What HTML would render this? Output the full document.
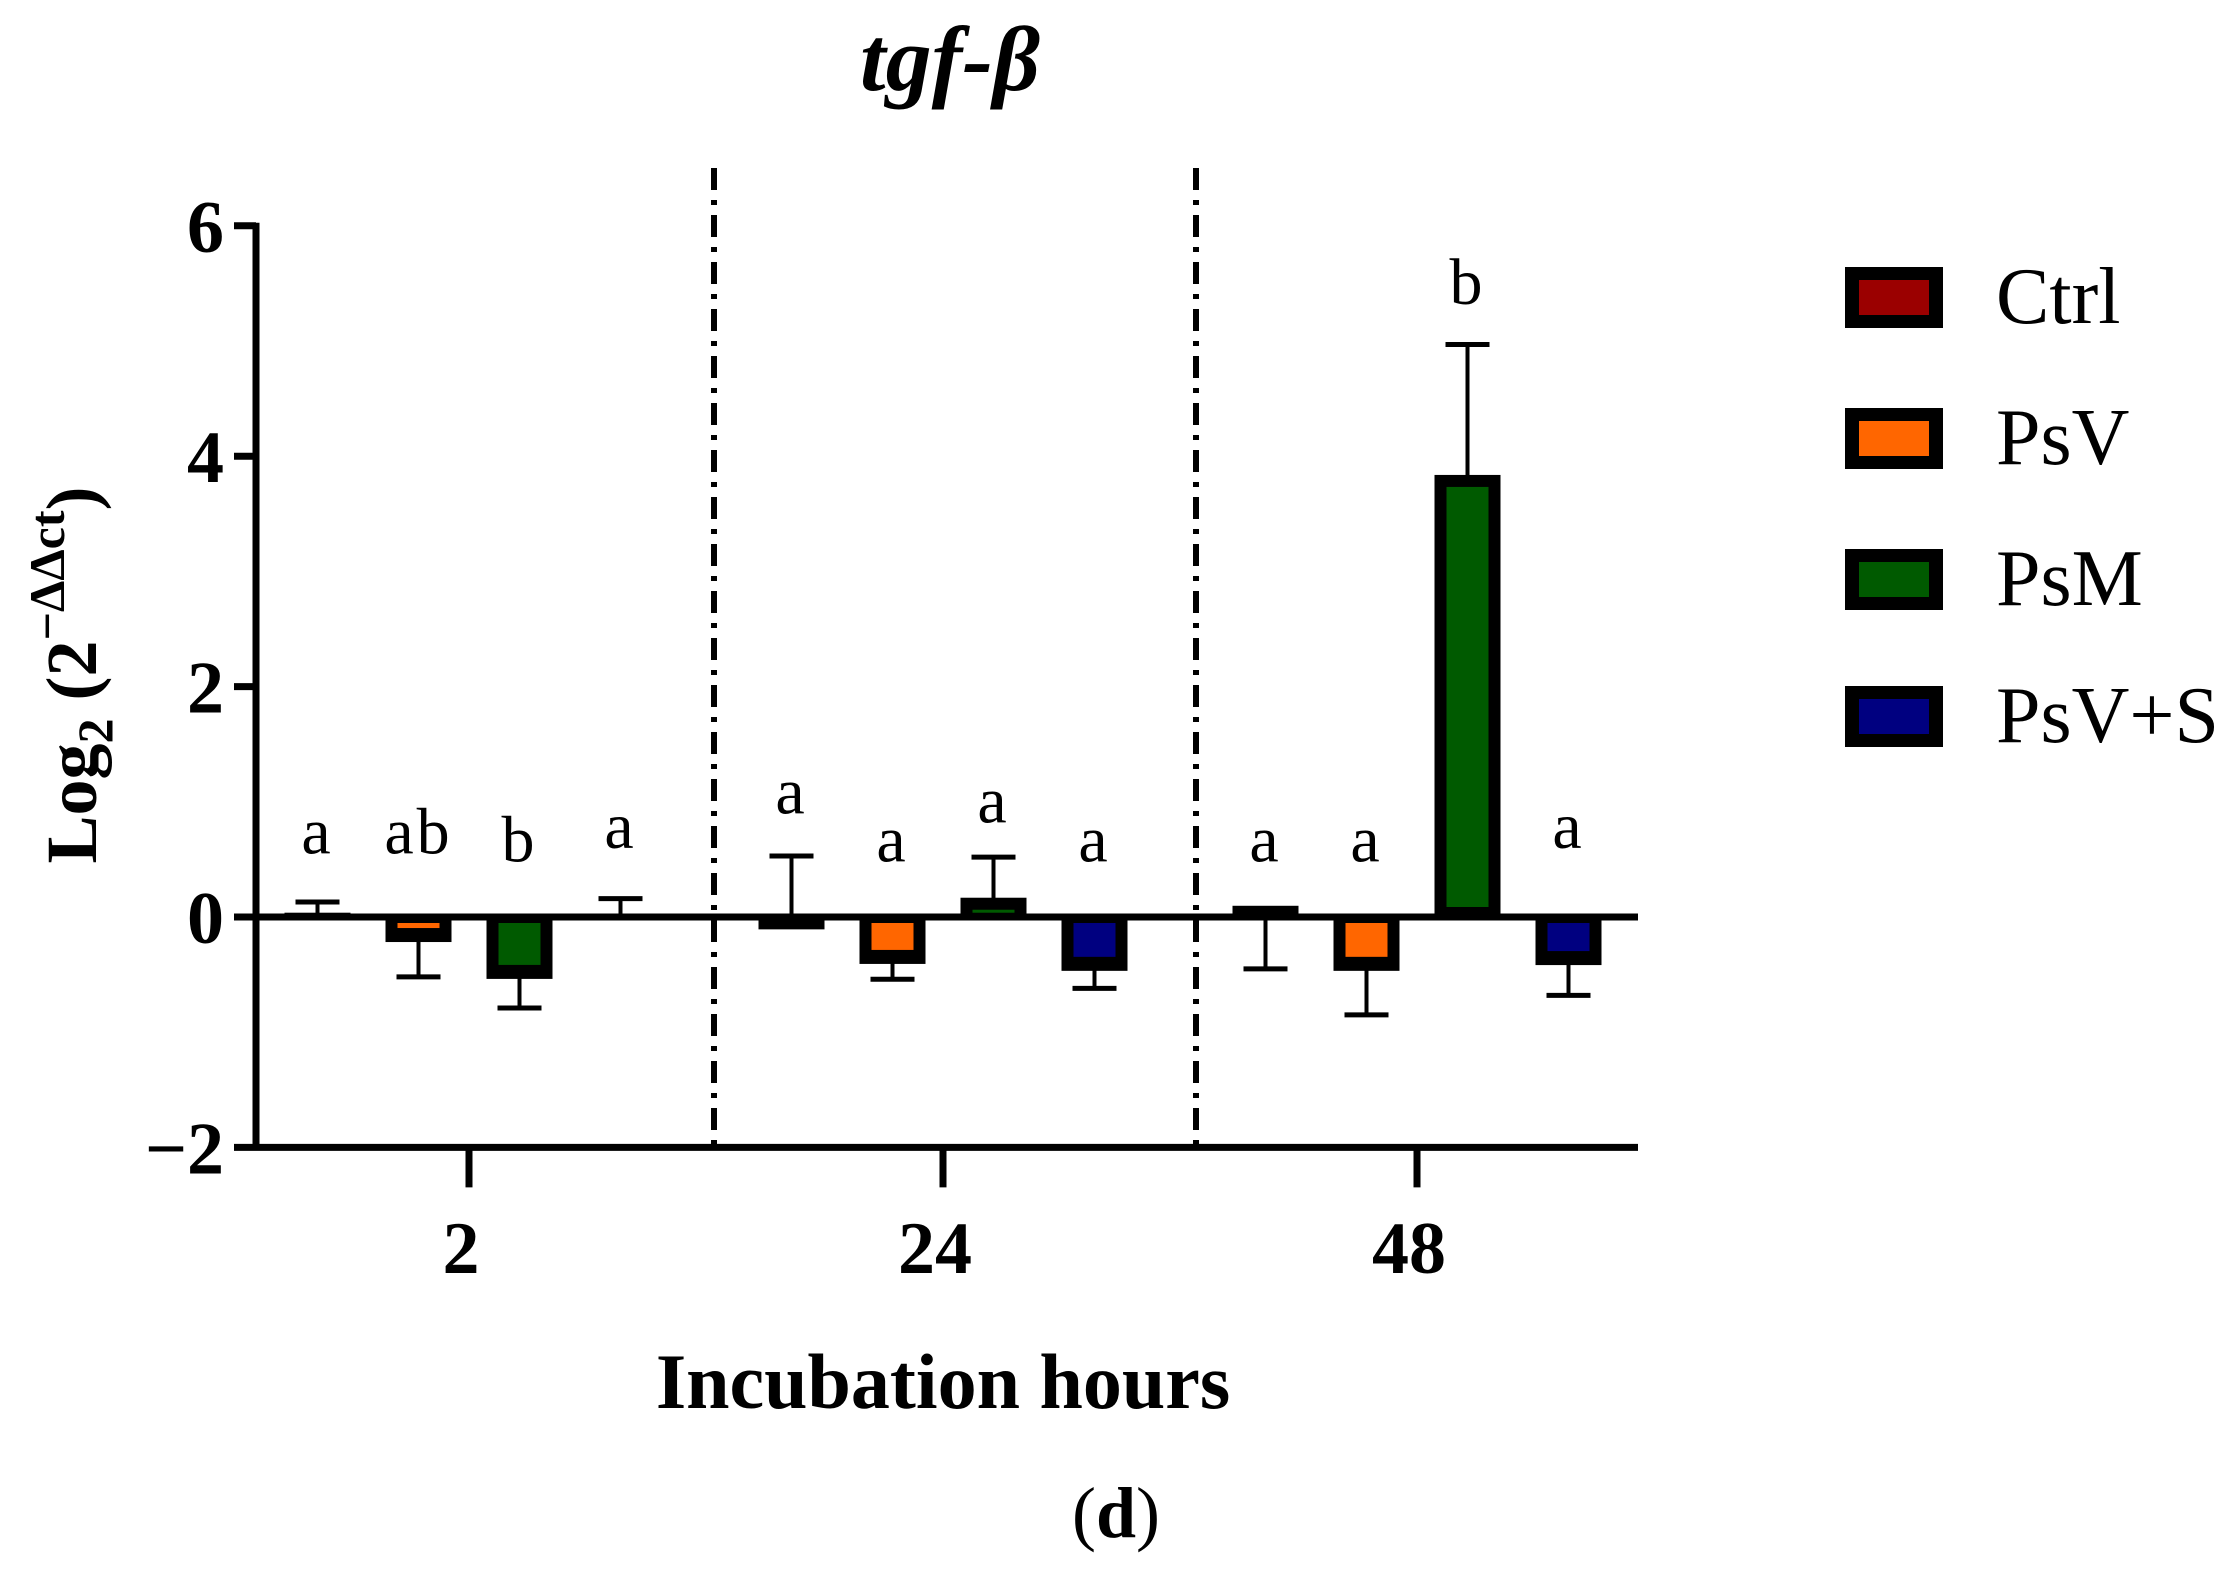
<!DOCTYPE html>
<html><head><meta charset="utf-8"><style>
html,body{margin:0;padding:0;background:#fff;}
svg{display:block;font-family:"Liberation Serif",serif;}
</style></head><body>
<svg id="chart" width="2229" height="1577" viewBox="0 0 2229 1577" xmlns="http://www.w3.org/2000/svg">
<text x="950" y="90" font-size="92" font-weight="bold" font-style="italic" text-anchor="middle">tgf-β</text>
<g id="plot"></g>
<text transform="translate(96,675) rotate(-90)" font-size="72" font-weight="bold" text-anchor="middle">Log<tspan font-size="50" dy="16">2</tspan><tspan dy="-16"> (2</tspan><tspan font-size="50" dy="-32">−ΔΔct</tspan><tspan dy="32">)</tspan></text>
<text x="943" y="1408" font-size="78" font-weight="bold" text-anchor="middle">Incubation hours</text>
<text x="1116" y="1537" font-size="72" text-anchor="middle">(<tspan font-weight="bold">d</tspan>)</text>
<g id="legend"></g>
</svg>
<script>
const groups = ["2", "24", "48"];
const seriesNames = ["Ctrl", "PsV", "PsM", "PsV+S"];
const seriesColors = ["#9b0000", "#ff6600", "#005a00", "#000080"];
const ctrlValues = [0.02, -0.09, 0.08];
const psvValues = [-0.2, -0.39, -0.45];
const psmValues = [-0.52, 0.15, 3.82];
const psvsValues = [0.0, -0.45, -0.4];
const ctrlErr = [0.13, 0.53, -0.45];
const psvErr = [-0.52, -0.54, -0.85];
const psmErr = [-0.79, 0.52, 4.97];
const psvsErr = [0.16, -0.62, -0.68];
const ctrlLetters = ["a", "a", "a"];
const psvLetters = ["ab", "a", "a"];
const psmLetters = ["b", "a", "b"];
const psvsLetters = ["a", "a", "a"];
const letterHeights = [[0.55, 0.55, 0.48, 0.6], [0.9, 0.48, 0.82, 0.48], [0.48, 0.48, 5.32, 0.6]];
const yTicks = [-2, 0, 2, 4, 6];

const NS = "http://www.w3.org/2000/svg";
const plot = document.getElementById("plot");
const X0 = 256, X1 = 1638, Y0 = 917, UNIT = 115.2;
function yS(v){ return Y0 - v * UNIT; }
const groupCenters = [469, 943, 1417];
const step = 101, barW = 66, border = 12;
function xS(g, s){ return groupCenters[g] + (s - 1.5) * step; }
function mk(tag, attrs, parent){ const e = document.createElementNS(NS, tag); for (const k in attrs) e.setAttribute(k, attrs[k]); (parent||plot).appendChild(e); return e; }

const vals = [ctrlValues, psvValues, psmValues, psvsValues];
const errs = [ctrlErr, psvErr, psmErr, psvsErr];
const letters = [ctrlLetters, psvLetters, psmLetters, psvsLetters];

[714, 1196].forEach((x, i) => {
  const l = mk("line", {x1:x, x2:x, y1:168, y2:yS(-2), stroke:"#000", "stroke-width":6, "stroke-dasharray":"22 10 5 10"});
  
  
});

for (let g = 0; g < groups.length; g++) {
  for (let s = 0; s < 4; s++) {
    const v = vals[s][g], cx = xS(g, s);
    const top = Math.min(yS(v), Y0), h = Math.abs(yS(v) - Y0);
    const eb = errs[s][g];
    const ey = yS(eb);
    const ew = mk("line", {x1:cx, x2:cx, y1:yS(v), y2:ey, stroke:"#000", "stroke-width":4});
    
    
    const ec = mk("line", {x1:cx-22, x2:cx+22, y1:ey, y2:ey, stroke:"#000", "stroke-width":5});
    
    
    const b = mk("rect", {x:cx-barW/2, y:top-2, width:barW, height:h+4, fill:"#000"});
    
    
    if (h > 12) {
      const ih = Math.max(h + 4 - 2*border, 3);
      const iy = v >= 0 ? top - 2 + border : Y0 + 6;
      const inner = mk("rect", {x:cx-barW/2+border, y:iy, width:barW-2*border, height:v>=0?ih:Math.max(h-6-border,3), fill:seriesColors[s]});
      
      
    }
    const t = mk("text", {x:cx, y:yS(letterHeights[g][s]), "font-size":66, "text-anchor":"middle", "letter-spacing":"3"});
    t.textContent = letters[s][g];
    
    
  }
}
const zl = mk("line", {x1:X0, x2:X1, y1:Y0, y2:Y0, stroke:"#000", "stroke-width":7});


const ya = mk("line", {x1:X0, x2:X0, y1:yS(6)-3, y2:yS(-2)+3, stroke:"#000", "stroke-width":7});


const xa = mk("line", {x1:X0, x2:X1, y1:yS(-2), y2:yS(-2), stroke:"#000", "stroke-width":7});


yTicks.forEach(v => {
  const tk = mk("line", {x1:X0-22, x2:X0, y1:yS(v), y2:yS(v), stroke:"#000", "stroke-width":7});
  
  
  const tl = mk("text", {x:X0-32, y:yS(v)+26, "font-size":74, "font-weight":"bold", "text-anchor":"end"});
  tl.textContent = v < 0 ? "−" + Math.abs(v) : String(v);
  
  
});
groups.forEach((gname, g) => {
  const tk = mk("line", {x1:groupCenters[g], x2:groupCenters[g], y1:yS(-2), y2:yS(-2)+40, stroke:"#000", "stroke-width":7});
  
  
  const tl = mk("text", {x:groupCenters[g]-8, y:1273, "font-size":74, "font-weight":"bold", "text-anchor":"middle"});
  tl.textContent = gname;
  
  
});
const leg = document.getElementById("legend");
const legY = [267, 408, 549, 686];
seriesNames.forEach((n, i) => {
  const g = mk("g", {}, leg);
  
  
  mk("rect", {x:1845, y:legY[i], width:98, height:61, fill:"#000"}, g);
  mk("rect", {x:1859, y:legY[i]+13, width:70, height:35, fill:seriesColors[i]}, g);
  const t = mk("text", {x:1996, y:legY[i]+56, "font-size":80}, g);
  t.textContent = n;
});
</script>
</body></html>
